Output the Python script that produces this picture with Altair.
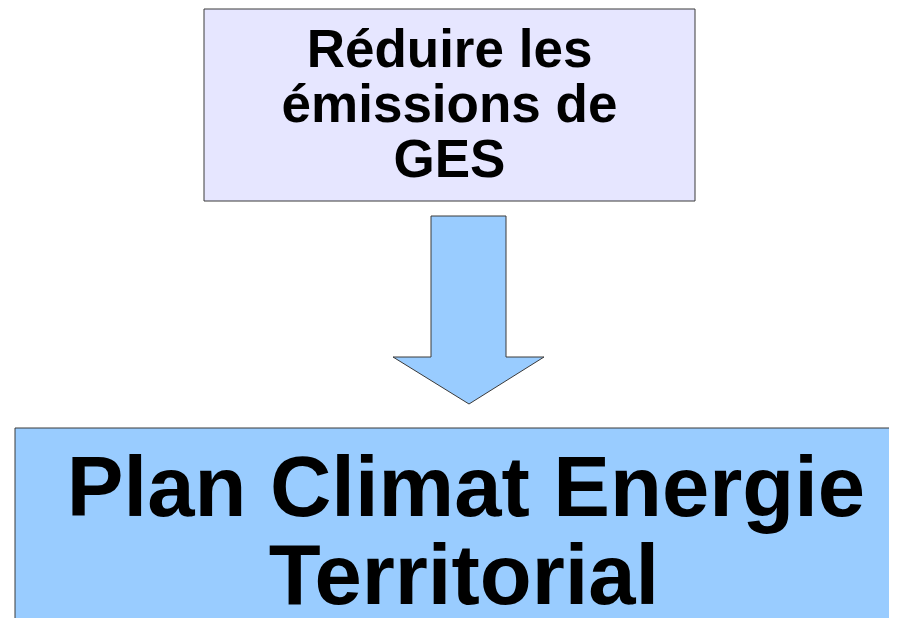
import altair as alt
import pandas as pd

# Boxes (in reference pixel units)
box_names = ["objectif", "plan"]
box_x0 = [204, 15]
box_x1 = [695, 910]
box_y0 = [9, 428]
box_y1 = [201, 640]
box_fill = ["#e6e6ff", "#99ccff"]

# Arrow outline points
arrow_x = [431, 506, 506, 544, 469, 393, 431, 431]
arrow_y = [216, 216, 357, 357, 404, 357, 357, 216]

# Text lines
top_lines = ["Réduire les", "émissions de", "GES"]
top_x = [449.5, 449.5, 449.5]
top_y = [67, 122, 177]
bottom_lines = ["Plan Climat Energie", "Territorial"]
bottom_x = [466, 464]
bottom_y = [516, 604]

W, H = 881, 610
xs = alt.Scale(domain=[8, 8 + W], nice=False, zero=False)
ys = alt.Scale(domain=[8, 8 + H], nice=False, zero=False, reverse=True)

boxes = pd.DataFrame({"name": box_names, "x0": box_x0, "x1": box_x1,
                      "y0": box_y0, "y1": box_y1, "fill": box_fill})
arrow = pd.DataFrame({"x": arrow_x, "y": arrow_y, "o": list(range(len(arrow_x)))})
top = pd.DataFrame({"t": top_lines, "x": top_x, "y": top_y})
bottom = pd.DataFrame({"t": bottom_lines, "x": bottom_x, "y": bottom_y})

rects = alt.Chart(boxes).mark_rect(stroke="#3a3a3a", strokeWidth=1, clip=True).encode(
    x=alt.X("x0:Q", scale=xs, axis=None),
    x2="x1:Q",
    y=alt.Y("y0:Q", scale=ys, axis=None),
    y2="y1:Q",
    fill=alt.Fill("fill:N", scale=None, legend=None),
)

arr = alt.Chart(arrow).mark_line(fill="#99ccff", stroke="#3a3a3a", strokeWidth=1,
                                  strokeJoin="miter").encode(
    x=alt.X("x:Q", scale=xs, axis=None),
    y=alt.Y("y:Q", scale=ys, axis=None),
    order="o:Q",
)

t1 = alt.Chart(top).mark_text(font="Liberation Sans", fontWeight="bold", fontSize=53,
                              color="black", align="center", baseline="alphabetic").encode(
    x=alt.X("x:Q", scale=xs, axis=None),
    y=alt.Y("y:Q", scale=ys, axis=None),
    text="t:N",
)

t2 = alt.Chart(bottom).mark_text(font="Liberation Sans", fontWeight="bold", fontSize=85,
                                 color="black", align="center", baseline="alphabetic").encode(
    x=alt.X("x:Q", scale=xs, axis=None),
    y=alt.Y("y:Q", scale=ys, axis=None),
    text="t:N",
)

chart = alt.layer(rects, arr, t1, t2).properties(
    width=W, height=H, padding=0, background="white"
).configure_view(strokeWidth=0)

chart.save("out.html", embed_options={"renderer": "svg", "actions": False})
